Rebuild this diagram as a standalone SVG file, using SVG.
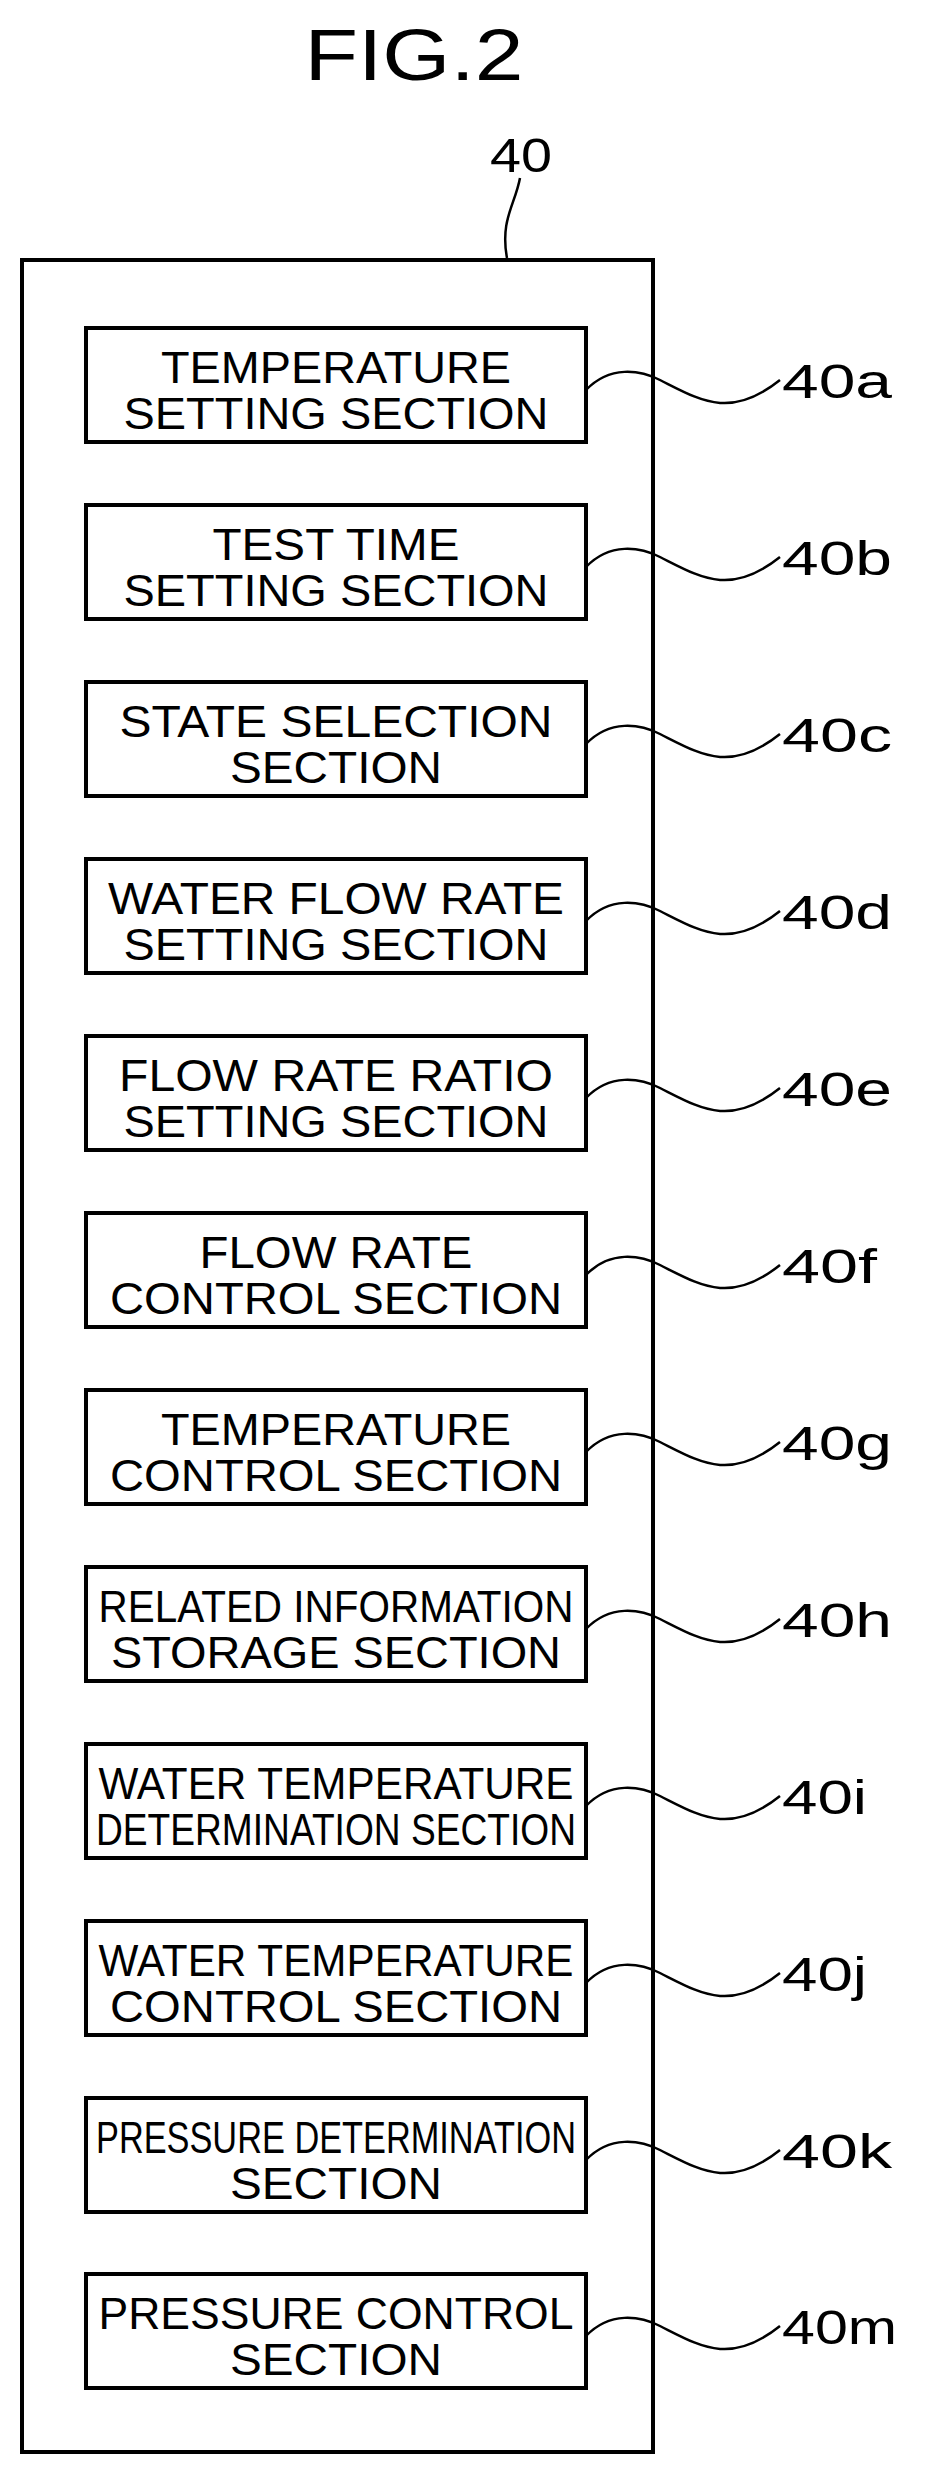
<svg xmlns="http://www.w3.org/2000/svg" width="938" height="2475" viewBox="0 0 938 2475">
<style>
.b{fill:#fff;stroke:#000;stroke-width:4}
.t{font-family:"Liberation Sans",Arial,sans-serif;font-size:44px;text-anchor:middle}
.l{font-family:"Liberation Sans",Arial,sans-serif;font-size:48px}
.c{fill:none;stroke:#000;stroke-width:2.5}
</style>
<rect width="938" height="2475" fill="#fff"/>
<text x="414" y="80" class="l" style="font-size:72px" text-anchor="middle" textLength="219" lengthAdjust="spacingAndGlyphs">FIG.2</text>
<g id="n40">
<rect class="b" x="22" y="260" width="631" height="2192"/>
<text x="490" y="172" class="l" textLength="62" lengthAdjust="spacingAndGlyphs">40</text>
</g>
<g id="connectors">
<path class="c" d="M520,178 C515,205 500,220 507,258"/>
</g>
<g id="nodes">
<g id="n40a">
<rect class="b" x="86" y="328" width="500" height="114"/>
<text class="t" x="336" y="383" textLength="350" lengthAdjust="spacingAndGlyphs">TEMPERATURE</text><text class="t" x="336" y="429" textLength="425" lengthAdjust="spacingAndGlyphs">SETTING SECTION</text>
<path class="c" d="M586,390 C610,365 640,370 660,380 C700,400 730,420 780,380"/><text class="l" x="782" y="398" textLength="110" lengthAdjust="spacingAndGlyphs">40a</text></g>
<g id="n40b" transform="translate(0,177)">
<rect class="b" x="86" y="328" width="500" height="114"/>
<text class="t" x="336" y="383" textLength="247" lengthAdjust="spacingAndGlyphs">TEST TIME</text><text class="t" x="336" y="429" textLength="425" lengthAdjust="spacingAndGlyphs">SETTING SECTION</text>
<path class="c" d="M586,390 C610,365 640,370 660,380 C700,400 730,420 780,380"/><text class="l" x="782" y="398" textLength="110" lengthAdjust="spacingAndGlyphs">40b</text></g>
<g id="n40c" transform="translate(0,354)">
<rect class="b" x="86" y="328" width="500" height="114"/>
<text class="t" x="336" y="383" textLength="433" lengthAdjust="spacingAndGlyphs">STATE SELECTION</text><text class="t" x="336" y="429" textLength="212" lengthAdjust="spacingAndGlyphs">SECTION</text>
<path class="c" d="M586,390 C610,365 640,370 660,380 C700,400 730,420 780,380"/><text class="l" x="782" y="398" textLength="110" lengthAdjust="spacingAndGlyphs">40c</text></g>
<g id="n40d" transform="translate(0,531)">
<rect class="b" x="86" y="328" width="500" height="114"/>
<text class="t" x="336" y="383" textLength="456" lengthAdjust="spacingAndGlyphs">WATER FLOW RATE</text><text class="t" x="336" y="429" textLength="425" lengthAdjust="spacingAndGlyphs">SETTING SECTION</text>
<path class="c" d="M586,390 C610,365 640,370 660,380 C700,400 730,420 780,380"/><text class="l" x="782" y="398" textLength="110" lengthAdjust="spacingAndGlyphs">40d</text></g>
<g id="n40e" transform="translate(0,708)">
<rect class="b" x="86" y="328" width="500" height="114"/>
<text class="t" x="336" y="383" textLength="434" lengthAdjust="spacingAndGlyphs">FLOW RATE RATIO</text><text class="t" x="336" y="429" textLength="425" lengthAdjust="spacingAndGlyphs">SETTING SECTION</text>
<path class="c" d="M586,390 C610,365 640,370 660,380 C700,400 730,420 780,380"/><text class="l" x="782" y="398" textLength="110" lengthAdjust="spacingAndGlyphs">40e</text></g>
<g id="n40f" transform="translate(0,885)">
<rect class="b" x="86" y="328" width="500" height="114"/>
<text class="t" x="336" y="383" textLength="273" lengthAdjust="spacingAndGlyphs">FLOW RATE</text><text class="t" x="336" y="429" textLength="452" lengthAdjust="spacingAndGlyphs">CONTROL SECTION</text>
<path class="c" d="M586,390 C610,365 640,370 660,380 C700,400 730,420 780,380"/><text class="l" x="782" y="398" textLength="95" lengthAdjust="spacingAndGlyphs">40f</text></g>
<g id="n40g" transform="translate(0,1062)">
<rect class="b" x="86" y="328" width="500" height="114"/>
<text class="t" x="336" y="383" textLength="350" lengthAdjust="spacingAndGlyphs">TEMPERATURE</text><text class="t" x="336" y="429" textLength="452" lengthAdjust="spacingAndGlyphs">CONTROL SECTION</text>
<path class="c" d="M586,390 C610,365 640,370 660,380 C700,400 730,420 780,380"/><text class="l" x="782" y="398" textLength="110" lengthAdjust="spacingAndGlyphs">40g</text></g>
<g id="n40h" transform="translate(0,1239)">
<rect class="b" x="86" y="328" width="500" height="114"/>
<text class="t" x="336" y="383" textLength="475" lengthAdjust="spacingAndGlyphs">RELATED INFORMATION</text><text class="t" x="336" y="429" textLength="450" lengthAdjust="spacingAndGlyphs">STORAGE SECTION</text>
<path class="c" d="M586,390 C610,365 640,370 660,380 C700,400 730,420 780,380"/><text class="l" x="782" y="398" textLength="110" lengthAdjust="spacingAndGlyphs">40h</text></g>
<g id="n40i" transform="translate(0,1416)">
<rect class="b" x="86" y="328" width="500" height="114"/>
<text class="t" x="336" y="383" textLength="475" lengthAdjust="spacingAndGlyphs">WATER TEMPERATURE</text><text class="t" x="336" y="429" textLength="480" lengthAdjust="spacingAndGlyphs">DETERMINATION SECTION</text>
<path class="c" d="M586,390 C610,365 640,370 660,380 C700,400 730,420 780,380"/><text class="l" x="782" y="398" textLength="85" lengthAdjust="spacingAndGlyphs">40i</text></g>
<g id="n40j" transform="translate(0,1593)">
<rect class="b" x="86" y="328" width="500" height="114"/>
<text class="t" x="336" y="383" textLength="475" lengthAdjust="spacingAndGlyphs">WATER TEMPERATURE</text><text class="t" x="336" y="429" textLength="452" lengthAdjust="spacingAndGlyphs">CONTROL SECTION</text>
<path class="c" d="M586,390 C610,365 640,370 660,380 C700,400 730,420 780,380"/><text class="l" x="782" y="398" textLength="85" lengthAdjust="spacingAndGlyphs">40j</text></g>
<g id="n40k" transform="translate(0,1770)">
<rect class="b" x="86" y="328" width="500" height="114"/>
<text class="t" x="336" y="383" textLength="480" lengthAdjust="spacingAndGlyphs">PRESSURE DETERMINATION</text><text class="t" x="336" y="429" textLength="212" lengthAdjust="spacingAndGlyphs">SECTION</text>
<path class="c" d="M586,390 C610,365 640,370 660,380 C700,400 730,420 780,380"/><text class="l" x="782" y="398" textLength="110" lengthAdjust="spacingAndGlyphs">40k</text></g>
<g id="n40m" transform="translate(0,1946)">
<rect class="b" x="86" y="328" width="500" height="114"/>
<text class="t" x="336" y="383" textLength="475" lengthAdjust="spacingAndGlyphs">PRESSURE CONTROL</text><text class="t" x="336" y="429" textLength="212" lengthAdjust="spacingAndGlyphs">SECTION</text>
<path class="c" d="M586,390 C610,365 640,370 660,380 C700,400 730,420 780,380"/><text class="l" x="782" y="398" textLength="115" lengthAdjust="spacingAndGlyphs">40m</text></g>
</g>
</svg>
